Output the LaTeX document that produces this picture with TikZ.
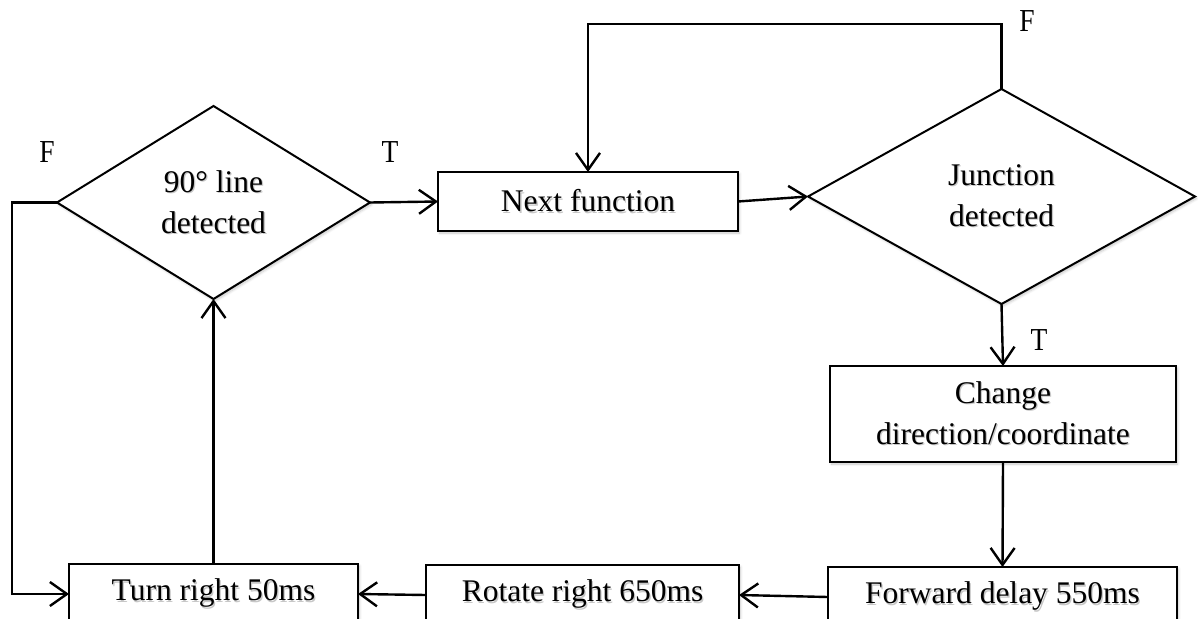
\documentclass[tikz,border=0pt]{standalone}
\usepackage{fontspec}
\setmainfont{Liberation Serif}
\usetikzlibrary{shapes.geometric,arrows.meta,shadows.blur}
% text with a faint grey shadow behind it
\newcommand{\shtext}[1]{\makebox[0pt][l]{\hspace{1.3pt}\raisebox{-1.3pt}{\textcolor{black!22}{#1}}}#1}
% narrow branch letter
\newcommand{\brl}[1]{\scalebox{0.86}[1]{#1}}
\begin{document}
\begin{tikzpicture}[x=1pt,y=-1pt,
  every node/.style={font=\fontsize{31.5}{41}\selectfont},
  softshadow/.style={blur shadow={shadow blur steps=6, shadow xshift=1.5pt, shadow yshift=-2pt, shadow opacity=22, shadow blur radius=2.5pt}},
  stepbox/.style={draw, fill=white, softshadow, line width=2.2pt, rectangle, inner sep=0pt, outer sep=0pt, align=center},
  decision/.style={draw, fill=white, softshadow, line width=2pt, diamond, inner sep=0pt, outer sep=0pt, align=center},
  flow/.style={line width=2.4pt, -{Straight Barb[length=17pt,width=24pt,line width=2.4pt]}},
  branch/.style={inner sep=0pt, font=\fontsize{32}{36}\selectfont}]
\useasboundingbox (0,0) rectangle (1198,618);

% decisions
\node[decision, minimum width=313pt, minimum height=193pt] (line90) at (213.5,202.5) {\shtext{90° line}\\\shtext{detected}};
\node[decision, minimum width=387pt, minimum height=215pt] (junc) at (1001.5,196.5) {\shtext{Junction}\\\shtext{detected}};

% process steps
\node[stepbox, minimum width=300pt, minimum height=59pt] (next) at (588,201.5) {\shtext{Next function}};
\node[stepbox, minimum width=346pt, minimum height=96pt] (change) at (1003,414) {\shtext{Change}\\\shtext{direction/coordinate}};
\node[stepbox, minimum width=349pt, minimum height=60pt] (fwd) at (1002.5,597) {\shtext{Forward delay 550ms}};
\node[stepbox, minimum width=313pt, minimum height=60pt] (rot) at (582.5,595) {\shtext{Rotate right 650ms}};
\node[stepbox, minimum width=289pt, minimum height=60pt] (turn) at (213.5,594) {\shtext{Turn right 50ms}};

% branch labels
\node[branch] (f1) at (47,152) {\brl{F}};
\node[branch] (t1) at (390,152) {\brl{T}};
\node[branch] (f2) at (1027,21) {\brl{F}};
\node[branch] (t2) at (1039,340) {\brl{T}};

% connectors
\draw[flow] (line90.east) -- (next.west);
\draw[flow] (next.east) -- (junc.west);
\draw[flow] (junc.north) -- ++(0,-65) -| (next.north);
\draw[flow] (junc.south) -- (change.north);
\draw[flow] (change.south) -- (fwd.north);
\draw[flow] (fwd.west) -- (rot.east);
\draw[flow] (rot.west) -- (turn.east);
\draw[flow] (turn.north) -- (line90.south);
\draw[flow] (line90.west) -- ++(-45,0) |- (turn.west);
\end{tikzpicture}
\end{document}
